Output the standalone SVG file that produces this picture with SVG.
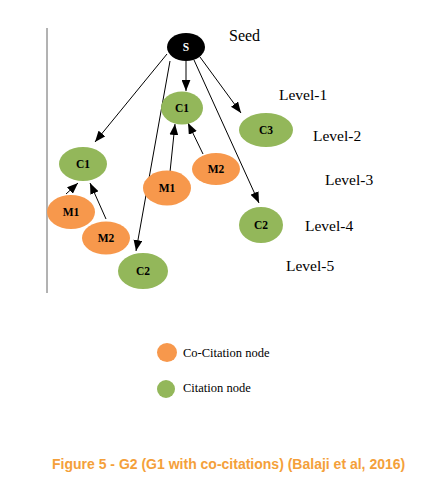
<svg xmlns="http://www.w3.org/2000/svg" width="426" height="493" viewBox="0 0 426 493">
<defs>
<marker id="ah" viewBox="0 0 10 8" refX="10" refY="4" markerWidth="11" markerHeight="9" markerUnits="userSpaceOnUse" orient="auto">
<path d="M0,0 L10,4 L0,8 Z" fill="#000"/>
</marker>
<style>
.g{fill:#93B75A}
.o{fill:#F7984C}
.nl{font-family:"Liberation Serif",serif;font-weight:bold;font-size:11.5px;text-anchor:middle;fill:#000}
.lv{font-family:"Liberation Serif",serif;font-size:15.5px;fill:#000}
.lg{font-family:"Liberation Serif",serif;font-size:12.5px;fill:#000}
.e line{stroke:#000;stroke-width:1;marker-end:url(#ah)}
</style>
</defs>
<rect width="426" height="493" fill="#fff"/>
<line x1="47" y1="28" x2="47" y2="293" stroke="#666" stroke-width="1"/>
<g id="connectors" class="e">
<line x1="167" y1="54" x2="95" y2="142"/>
<line x1="186" y1="61" x2="186" y2="91"/>
<line x1="170" y1="61" x2="136" y2="251"/>
<line x1="200" y1="57" x2="241" y2="113"/>
<line x1="194" y1="60" x2="259" y2="203"/>
<line x1="170" y1="172" x2="175" y2="124"/>
<line x1="203" y1="154" x2="188" y2="123"/>
<line x1="66" y1="194" x2="78" y2="183"/>
<line x1="106" y1="219" x2="90" y2="183"/>
</g>
<g id="seed"><ellipse cx="186" cy="47" rx="19" ry="14" fill="#000"/><text x="186" y="51" class="nl" style="fill:#fff">S</text></g>
<g id="c1-top"><ellipse class="g" cx="182" cy="108" rx="21" ry="16.5"/><text x="182" y="112" class="nl">C1</text></g>
<g id="c3"><ellipse class="g" cx="266" cy="130" rx="27" ry="17"/><text x="266" y="134" class="nl">C3</text></g>
<g id="c1-left"><ellipse class="g" cx="83" cy="164" rx="24" ry="17"/><text x="83" y="168" class="nl">C1</text></g>
<g id="m1-left"><ellipse class="o" cx="71" cy="212" rx="24" ry="17"/><text x="71" y="216" class="nl">M1</text></g>
<g id="m2-left"><ellipse class="o" cx="106" cy="238" rx="24" ry="16.5"/><text x="106" y="242" class="nl">M2</text></g>
<g id="c2-bottom"><ellipse class="g" cx="143" cy="271" rx="25" ry="18"/><text x="143" y="275" class="nl">C2</text></g>
<g id="m1-mid"><ellipse class="o" cx="167" cy="188" rx="24" ry="17.5"/><text x="167" y="192" class="nl">M1</text></g>
<g id="m2-mid"><ellipse class="o" cx="216" cy="169" rx="24" ry="16"/><text x="216" y="173" class="nl">M2</text></g>
<g id="c2-right"><ellipse class="g" cx="261" cy="225" rx="22" ry="18"/><text x="261" y="229" class="nl">C2</text></g>
<text x="229" y="41" class="lv" style="font-size:16px">Seed</text>
<text x="279" y="100" class="lv">Level-1</text>
<text x="313" y="141" class="lv">Level-2</text>
<text x="325" y="185" class="lv">Level-3</text>
<text x="305" y="231" class="lv">Level-4</text>
<text x="286" y="271" class="lv">Level-5</text>
<g id="legend">
<ellipse class="o" cx="167" cy="352.5" rx="10" ry="9.5"/>
<text x="183" y="357" class="lg">Co-Citation node</text>
<ellipse class="g" cx="166" cy="389" rx="9" ry="9"/>
<text x="183" y="392" class="lg">Citation node</text>
</g>
<text x="52" y="469" font-family="'Liberation Sans',Arial,sans-serif" font-weight="bold" font-size="14" fill="#F4A03A">Figure 5 - G2 (G1 with co-citations) (Balaji et al, 2016)</text>
</svg>
